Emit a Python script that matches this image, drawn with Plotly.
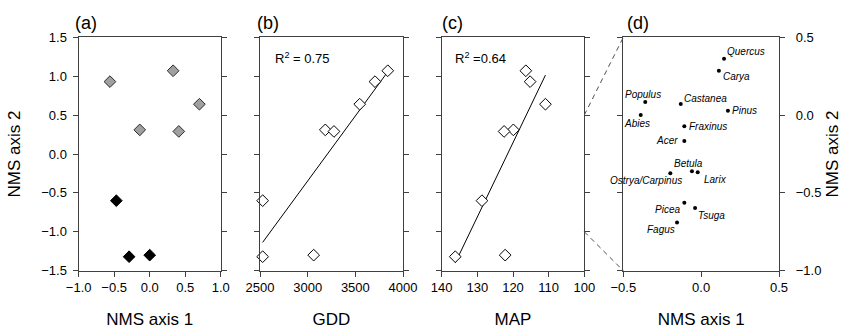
import numpy as np
import plotly.graph_objects as go

# ---- site scores (8 sites) ----
nms1 = [-0.56, 0.33, 0.70, -0.14, 0.41, -0.47, -0.29, 0.00]
nms2 = [0.93, 1.07, 0.64, 0.31, 0.29, -0.60, -1.32, -1.30]
site_group = ["north", "north", "north", "north", "north", "south", "south", "south"]
gdd = [3706, 3840, 3546, 3185, 3276, 2528, 2528, 3063]
map_cm = [115.2, 116.4, 110.9, 119.9, 122.5, 128.7, 136.2, 122.2]

# ---- taxon scores ----
taxa = ["Quercus", "Carya", "Populus", "Abies", "Castanea", "Pinus", "Fraxinus",
        "Acer", "Betula", "Larix", "Ostrya/Carpinus", "Picea", "Tsuga", "Fagus"]
taxa_x = [0.147, 0.114, -0.359, -0.388, -0.131, 0.172, -0.108,
          -0.108, -0.059, -0.022, -0.198, -0.108, -0.039, -0.155]
taxa_y = [0.362, 0.285, 0.084, 0.001, 0.071, 0.028, -0.072,
          -0.166, -0.361, -0.368, -0.374, -0.563, -0.597, -0.691]

# label placement for taxa: (xanchor, yanchor, xshift, yshift)
label_style = {
    "Quercus": ("left", "middle", 1, 7),
    "Carya": ("left", "middle", 2, -6),
    "Populus": ("center", "middle", -2, 8),
    "Abies": ("center", "middle", -4, -9),
    "Castanea": ("left", "middle", 1, 6),
    "Pinus": ("left", "middle", 2, 0),
    "Fraxinus": ("left", "middle", 3, 0),
    "Acer": ("right", "middle", -4, 0),
    "Betula": ("center", "middle", -3, 8),
    "Larix": ("left", "middle", 4, -7),
    "Ostrya/Carpinus": ("right", "middle", 14, -7),
    "Picea": ("right", "middle", -2, -7),
    "Tsuga": ("left", "middle", 1, -8),
    "Fagus": ("right", "middle", 0, -7),
}

AX = "#404040"
FONT = "Liberation Sans, Arial, sans-serif"
W, H = 842, 335

# panel geometry (paper fractions)
dom_x = [(78.7 / W, 220.7 / W), (260 / W, 403 / W), (441.7 / W, 584.3 / W), (623.3 / W, 779 / W)]
dom_y = (1 - 270.7 / H, 1 - 37.3 / H)
site_range = [-1.5, 1.5]
taxa_range = [-1.0, 0.5]

fig = go.Figure()

# (a) site ordination
grp_style = {"north": dict(color="#a0a0a0", line=dict(color="#2a2a2a", width=1)),
             "south": dict(color="black", line=dict(color="black", width=1))}
for g in ["north", "south"]:
    idx = [i for i, s in enumerate(site_group) if s == g]
    fig.add_trace(go.Scatter(
        x=[nms1[i] for i in idx], y=[nms2[i] for i in idx], mode="markers",
        marker=dict(symbol="diamond", size=9, **grp_style[g]),
        xaxis="x", yaxis="y", cliponaxis=False, showlegend=False))

# (b), (c) regressions of NMS axis 2 on climate
r2_text = {}
for xv, xa, ya in [(gdd, "x2", "y2"), (map_cm, "x3", "y3")]:
    xv_a = np.array(xv, dtype=float)
    yv_a = np.array(nms2, dtype=float)
    slope, icpt = np.polyfit(xv_a, yv_a, 1)
    xl = np.array([xv_a.min(), xv_a.max()])
    r2_text[xa] = np.corrcoef(xv_a, yv_a)[0, 1] ** 2
    fig.add_trace(go.Scatter(x=xl, y=slope * xl + icpt, mode="lines",
                             line=dict(color="black", width=1),
                             xaxis=xa, yaxis=ya, showlegend=False))
    fig.add_trace(go.Scatter(
        x=xv, y=nms2, mode="markers",
        marker=dict(symbol="diamond", size=9, color="white",
                    line=dict(color="black", width=1)),
        xaxis=xa, yaxis=ya, cliponaxis=False, showlegend=False))

# (d) taxon scores
fig.add_trace(go.Scatter(x=taxa_x, y=taxa_y, mode="markers",
                         marker=dict(size=4, color="black"),
                         xaxis="x4", yaxis="y4", cliponaxis=False, showlegend=False))

annotations = []
for name, tx, ty in zip(taxa, taxa_x, taxa_y):
    xa_, ya_, xs, ys = label_style[name]
    annotations.append(dict(x=tx, y=ty, xref="x4", yref="y4", text="<i>" + name + "</i>",
                            showarrow=False, xanchor=xa_, yanchor=ya_, xshift=xs, yshift=ys,
                            font=dict(family=FONT, size=10, color="black")))

# R^2 labels
annotations.append(dict(x=272.5 / W, y=1 - 58 / H, xref="paper", yref="paper",
                        text="R<sup>2</sup> = %.2f" % r2_text["x2"], showarrow=False,
                        xanchor="left", yanchor="middle",
                        font=dict(family=FONT, size=13, color="black")))
annotations.append(dict(x=453 / W, y=1 - 58 / H, xref="paper", yref="paper",
                        text="R<sup>2</sup> =%.2f" % r2_text["x3"], showarrow=False,
                        xanchor="left", yanchor="middle",
                        font=dict(family=FONT, size=13, color="black")))

# panel letters
for lab, px in zip(["(a)", "(b)", "(c)", "(d)"], [72.5, 254.5, 440, 625]):
    annotations.append(dict(x=px / W, y=1 - 23 / H, xref="paper", yref="paper", text=lab,
                            showarrow=False, xanchor="left", yanchor="middle",
                            font=dict(family=FONT, size=18, color="black")))

# dashed connectors: zoom window of panel (c) onto panel (d)
def y_paper(v, rng):
    return dom_y[0] + (v - rng[0]) / (rng[1] - rng[0]) * (dom_y[1] - dom_y[0])

shapes = []
for v in taxa_range:
    shapes.append(dict(type="line", xref="paper", yref="paper",
                       x0=dom_x[2][1], y0=y_paper(v, site_range),
                       x1=dom_x[3][0], y1=y_paper(v, taxa_range),
                       line=dict(color="#505050", width=1, dash="5px,4px")))

axis_common = dict(showline=True, linecolor=AX, linewidth=1.3, ticks="outside",
                   ticklen=5, tickwidth=1.2, tickcolor=AX, showgrid=False, zeroline=False,
                   automargin=False,
                   tickfont=dict(family=FONT, size=13, color="black"))
title_font = dict(family=FONT, size=17, color="black")

layout = dict(width=W, height=H, margin=dict(l=0, r=0, t=0, b=0, autoexpand=False),
              paper_bgcolor="white", plot_bgcolor="white", showlegend=False,
              annotations=annotations, shapes=shapes)

x_specs = [
    dict(range=[-1, 1], dtick=0.5, tickformat=".1f", title="NMS axis 1"),
    dict(range=[2500, 4000], dtick=500, tickformat="d", title="GDD"),
    dict(range=[140, 100], dtick=10, tickformat="d", title="MAP"),
    dict(range=[-0.5, 0.5], dtick=0.5, tickformat=".1f", title="NMS axis 1"),
]
for i, spec in enumerate(x_specs):
    key = "xaxis" if i == 0 else "xaxis%d" % (i + 1)
    yref = "y" if i == 0 else "y%d" % (i + 1)
    layout[key] = dict(axis_common, domain=list(dom_x[i]), anchor=yref, mirror=True,
                       range=spec["range"], dtick=spec["dtick"], tick0=spec["range"][0],
                       tickformat=spec["tickformat"],
                       title=dict(text=spec["title"], font=title_font, standoff=18))

for i in range(4):
    key = "yaxis" if i == 0 else "yaxis%d" % (i + 1)
    xref = "x" if i == 0 else "x%d" % (i + 1)
    d = dict(axis_common, domain=list(dom_y), anchor=xref, mirror="ticks", dtick=0.5,
             tickformat=".1f")
    if i < 3:
        d["range"] = site_range
        d["tick0"] = site_range[0]
        d["showticklabels"] = (i == 0)
        if i == 0:
            d["ticklabelstandoff"] = 3
            d["title"] = dict(text="NMS axis 2", font=title_font, standoff=16)
    else:
        d["range"] = taxa_range
        d["tick0"] = taxa_range[0]
        d["side"] = "right"
        d["ticklabelstandoff"] = 8
        d["title"] = dict(text="NMS axis 2", font=title_font, standoff=13)
    layout[key] = d

fig.update_layout(**layout)
fig.write_html("out.html")
